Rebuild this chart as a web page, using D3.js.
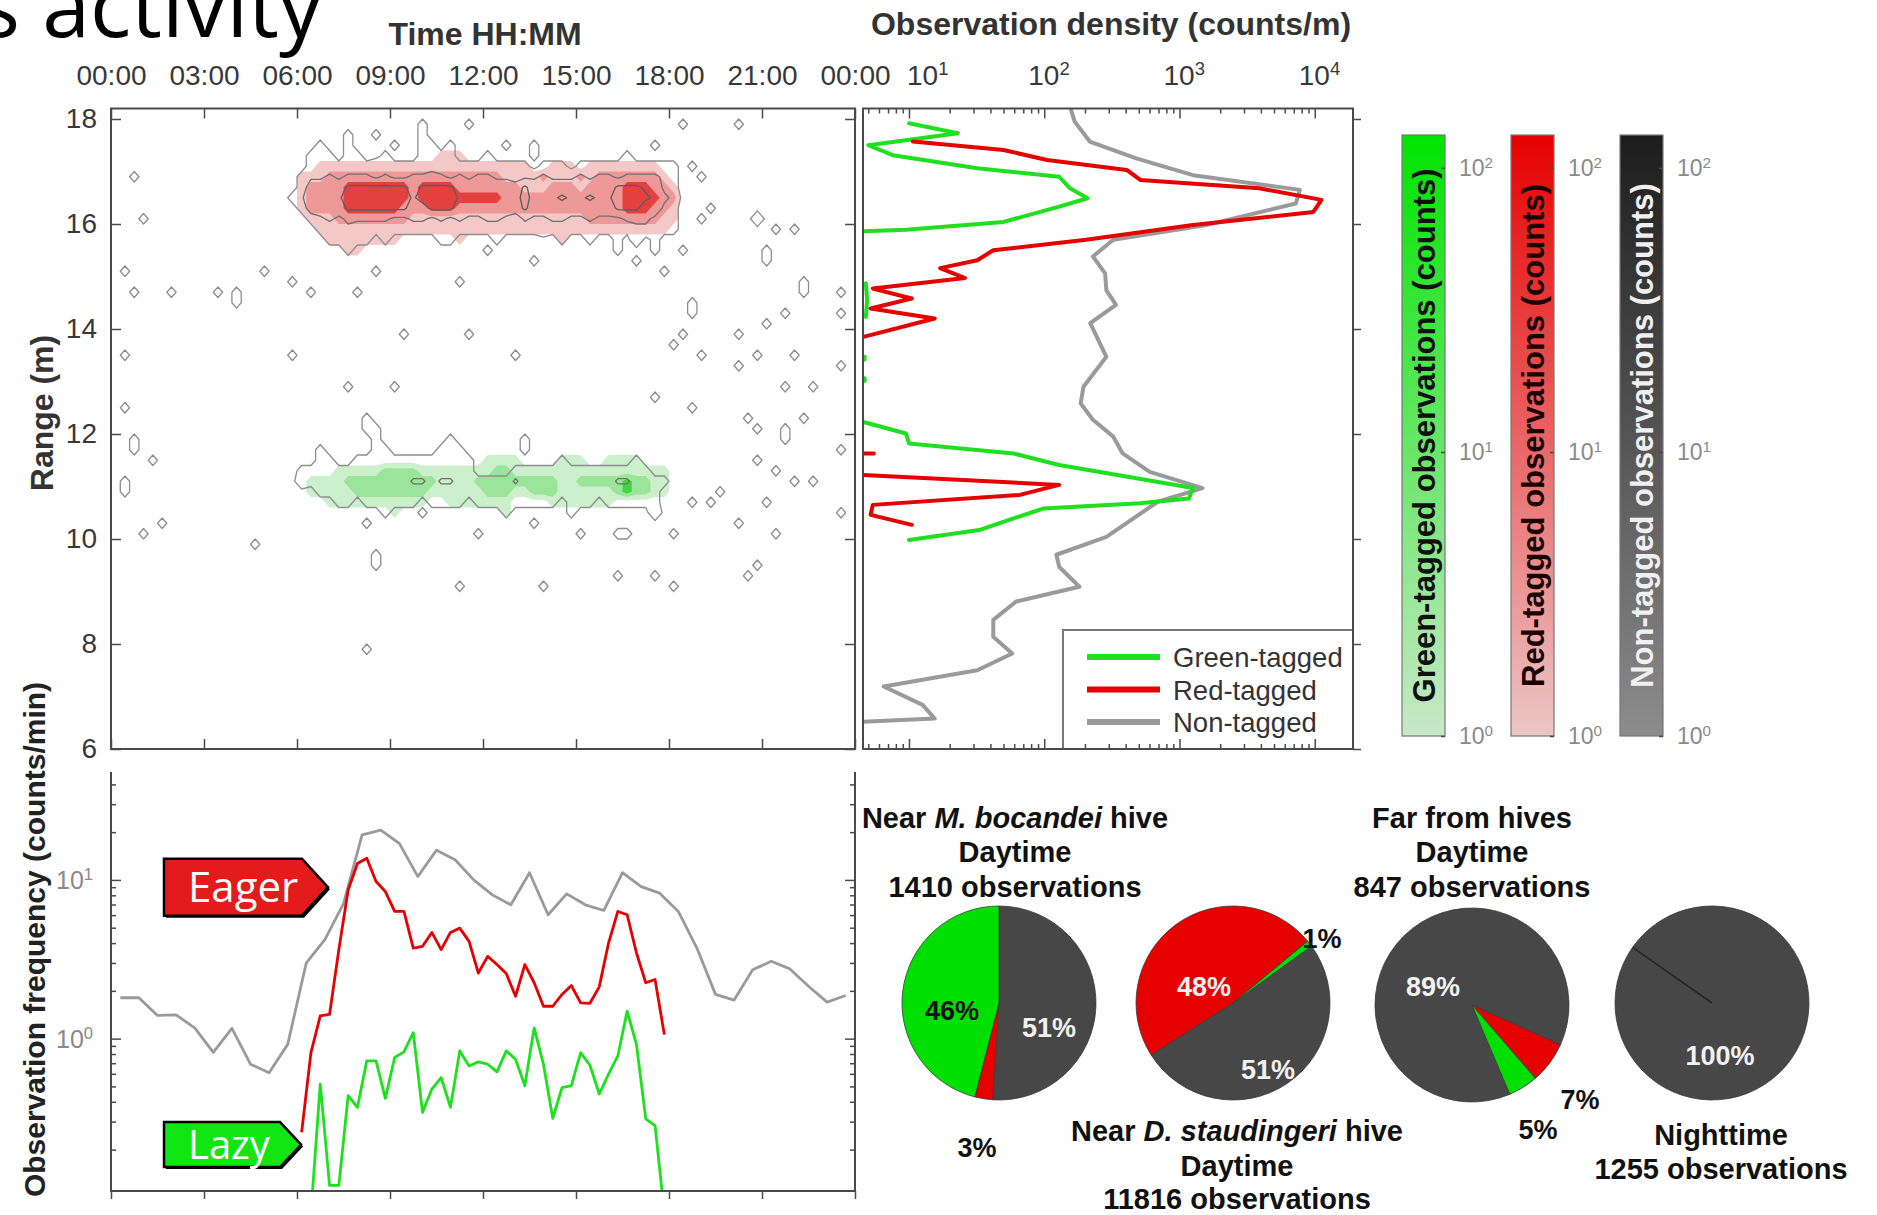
<!DOCTYPE html>
<html>
<head>
<meta charset="utf-8">
<script src="https://cdn.jsdelivr.net/npm/d3@7"></script>
<style>
  body { margin: 0; background: #fff; }
  svg { display: block; font-family: "Liberation Sans", Arial, sans-serif; }
</style>
</head>
<body>
<svg id="fig" width="1877" height="1215"></svg>
<script>
// ---- data ----

const hourTicks = [0, 3, 6, 9, 12, 15, 18, 21, 24];
const hourLabels = ["00:00", "03:00", "06:00", "09:00", "12:00", "15:00", "18:00", "21:00", "00:00"];
const rangeTicks = [6, 8, 10, 12, 14, 16, 18];

// heat map grid: 0.3 h columns x 0.2 m rows, row 0 starts at 18.2 m.
// band strings start at column 18; each char is a count level ('.' = none)
const bandFirstCol = 18;
const upperNonTaggedFirstRow = 2;
const upperNonTagged = [
  "..... ..1.. ..... 1.... ..... ..... ..... ..... .....",
  "....1 ..1.. ..1.. 11.1. ..... ..... ..... ..... 1....",
  "...11 1.11. .1... 1111. ..1.. ..1.. ..... ..1.. .....",
  "...11 11111 21111 12111 11111 11.11 1.111 11111 111..",
  "..122 32333 23223 33323 23322 12232 22323 32333 321..",
  "..144 44666 66664 66664 44544 46444 44444 46665 421..",
  ".1255 55777 77775 77775 55555 56555 65565 57776 532..",
  "..144 44666 66664 46664 44444 46444 44444 46664 421..",
  "...12 32333 33223 32323 22332 13223 32232 22333 221..",
  "....1 11211 11111 11111 11111 11121 11111 11121 111..",
  "..... 11111 .1... ..11. ...1. ..... 1..1. .1.1. 1....",
  "..... ..1.. ..... ..... ..1.. ..... ..... .1... ....."
];
const upperRedFirstRow = 4;
const upperRed = [
  "..... ..... ..... ..111 ..... ..... ..... ..... .....",
  "....1 11111 11111 11111 11111 11..1 11.11 11111 1....",
  "..111 22222 22222 22222 22221 11121 11212 22222 21...",
  "..122 22333 33332 33332 22222 21112 22122 22333 221..",
  "..122 22333 33332 33333 33332 22222 22222 22333 322..",
  "..122 22333 33322 23332 22222 22222 22222 22333 221..",
  "...11 12222 22221 11111 11111 11111 11122 22222 211..",
  "....1 11111 11111 11111 11111 11111 11111 11111 11...",
  "..... 11111 111.. ....1 ..... ..... 1.... ..... .....",
  "..... ..11. ..... ..... ..... ..... ..... ..... ....."
];
const lowerNonTaggedFirstRow = 29;
const lowerNonTagged = [
  "..... ....1 ..... ..... ..... ..... ..... ..... .....",
  "..... ....1 1.... ..... ..... ..... ..... ..... .....",
  "..... ..... 1.... ...1. ..... .1... ..... ..... .....",
  "....1 ..... 11... ..111 ..... .1... ..... ..... .....",
  "....1 1..11 11111 11111 1.... ..... 1.... ...1. .....",
  "...11 11111 11111 11111 1.... 11111 11111 11111 .....",
  "..111 11111 11113 31331 11111 31111 11111 13311 11...",
  "....1 11111 11111 11111 11111 11111 11111 11111 1....",
  "..... .11.1 11111 .1111 .1111 11111 .111. 11111 1....",
  "..... ..... .1... 1.... ....1 ..... .1... ..... 1...."
];
const lowerGreenFirstRow = 33;
const lowerGreen = [
  "..... ..... ..... ..... ..111 1.... 111.. 1111. .....",
  "..... .1111 12222 11111 11122 11111 11111 11111 11...",
  "...11 11222 22222 22111 12222 22222 11222 22322 11...",
  "...11 11122 22222 21111 11222 11222 11111 12322 11...",
  "..... 11111 11111 1..11 11111 ....1 11111 1.... .....",
  "..... ..... ..1.. ..... ....1 ..... ..... ..... ....."
];

// isolated non-tagged observations [hour, range m]
const strayObs = [
  [8.6, 17.77], [10.1, 17.8], [11.6, 17.8], [12.8, 17.45], [13.5, 17.45], [18.5, 17.8], [20.2, 17.8],
  [18.6, 17.2], [19.1, 16.8], [19.3, 16.4], [18.9, 16.0], [20.7, 16.1], [20.8, 16.2], [21.4, 15.83],
  [22.0, 15.9], [21.0, 15.47], [21.2, 15.24], [17.4, 15.47], [17.7, 15.2], [16.8, 15.37], [16.8, 15.6],
  [18.3, 15.4], [17.3, 15.8], [13.7, 15.37], [11.3, 14.86], [7.9, 14.74], [8.5, 15.0], [6.4, 14.76],
  [5.9, 14.8], [4.8, 15.2], [3.9, 14.5], [4.0, 14.7], [3.3, 14.7], [1.9, 14.75], [0.7, 14.75],
  [0.55, 15.2], [0.7, 16.9], [0.9, 16.0], [9.4, 13.94], [11.6, 13.8], [13.1, 13.48], [7.6, 12.97],
  [9.1, 12.95], [5.9, 13.43], [0.35, 13.43], [18.6, 14.5], [18.6, 14.3], [18.1, 13.6], [18.4, 13.8],
  [19.0, 13.43], [20.3, 13.25], [20.8, 13.43], [20.3, 13.9], [21.8, 14.36], [21.2, 14.1], [22.2, 14.9],
  [22.2, 14.7], [23.4, 14.75], [23.4, 14.36], [22.0, 13.43], [23.5, 13.25], [22.7, 12.83], [21.7, 12.83],
  [22.4, 12.36], [21.8, 11.96], [21.8, 12.15], [20.9, 12.15], [23.4, 11.63], [20.4, 12.3], [18.8, 12.46],
  [17.5, 12.6], [22.0, 11.12], [22.5, 11.03], [21.5, 11.35], [20.9, 11.5], [21.1, 10.66], [20.3, 10.34],
  [19.4, 10.74], [19.7, 10.9], [23.5, 10.43], [21.4, 10.1], [20.7, 9.55], [18.7, 10.74], [0.55, 12.5],
  [0.6, 11.7], [0.6, 11.9], [1.3, 11.5], [0.5, 10.8], [0.5, 11.0], [0.95, 10.15], [1.7, 10.3],
  [4.7, 9.96], [6.1, 11.35], [6.1, 11.1], [8.6, 9.64], [8.6, 9.45], [11.3, 9.1], [8.1, 7.98],
  [16.3, 9.27], [13.9, 9.0], [17.5, 9.27], [18.0, 9.2], [15.0, 10.2], [16.4, 10.2], [16.6, 10.2],
  [17.5, 10.47], [18.0, 10.1], [13.5, 10.38], [12.2, 10.84], [11.9, 10.0], [20.6, 9.37], [8.1, 10.3]
];

// observation density profiles [range m, counts/m]; null breaks the line
const greenProfile = [
  [17.92, 10], [17.73, 23], [17.50, 5.0], [17.31, 7.6], [17.06, 32], [16.90, 129], [16.68, 155],
  [16.49, 209], [16.33, 129], [16.04, 50], [15.89, 9.5], [15.86, 4.6], null,
  [14.87, 4.8], [14.55, 4.9], [14.23, 4.8], null,
  [13.47, 4.7], [13.42, 4.7], null, [13.06, 4.7], [13.01, 4.7], null,
  [12.23, 4.6], [12.01, 9.5], [11.82, 10], [11.63, 59], [11.41, 129], [10.97, 1259], [10.77, 1175],
  [10.68, 513], [10.58, 98], [10.17, 33], [9.98, 10]
];
const redProfile = [
  [17.57, 10.7], [17.41, 50], [17.22, 105], [17.03, 407], [16.84, 513], [16.68, 3890], [16.46, 11220],
  [16.23, 9772], [15.98, 1259], [15.70, 204], [15.50, 42], [15.31, 32], [15.16, 17], [14.97, 26],
  [14.77, 5.4], [14.58, 10.5], [14.39, 5.2], [14.20, 15.5], [13.85, 4.6], null,
  [11.63, 4.5], [11.63, 5.5], null,
  [11.22, 4.6], [11.03, 129], [10.84, 66], [10.65, 5.4], [10.46, 5.2], [10.27, 10.5]
];
const nonTaggedProfile = [
  [18.17, 158], [17.95, 168], [17.57, 217], [17.25, 479], [16.93, 1259], [16.65, 7762], [16.39, 7244],
  [15.98, 1585], [15.70, 324], [15.38, 229], [15.06, 282], [14.74, 288], [14.46, 339], [14.11, 219],
  [13.47, 288], [12.90, 195], [12.58, 186], [12.27, 229], [11.95, 324], [11.63, 380], [11.28, 603],
  [10.97, 1479], [10.71, 692], [10.04, 288], [9.70, 123], [9.47, 129], [9.09, 182], [8.81, 62],
  [8.46, 42], [8.14, 42], [7.82, 58], [7.50, 32], [7.19, 6.5], [6.84, 12.6], [6.58, 15.5],
  [6.52, 4.6], [6.3, 3], [5.9, 3]
];

// observation frequency (counts/min); non-tagged in 0.6 h bins, tagged in 0.3 h bins
const nonTaggedFreq = [
  1.81, 1.81, 1.40, 1.41, 1.17, 0.82, 1.16, 0.69, 0.61, 0.92, 3.0, 4.2, 7.1, 19.2, 20.6, 17.0, 10.5, 15.4, 13.4, 10.0,
  8.05, 6.97, 11.1, 6.03, 8.17, 6.97, 6.42, 11.1, 9.08, 8.25, 6.33, 3.72, 1.90, 1.75, 2.72, 3.07, 2.75, 2.14, 1.70, 1.87
];
const redFreqStartBin = 20;
const redFreq = [
  0.257, 0.817, 1.39, 1.42, 3.64, 8.65, 12.7, 13.7, 9.77, 8.45, 6.33, 6.33, 3.72, 3.82, 4.67, 3.64, 4.67, 4.97, 4.10, 2.59,
  3.30, 2.93, 2.57, 1.85, 2.93, 2.25, 1.60, 1.60, 1.90, 2.16, 1.68, 1.67, 2.12, 4.0, 6.33, 6.03, 3.47, 2.25, 2.36, 1.06
];
const greenFreqStartBin = 21;
const greenFreq = [
  0.08, 0.517, 0.119, 0.119, 0.437, 0.369, 0.724, 0.724, 0.42, 0.76, 0.825, 1.09, 0.343, 0.481, 0.569, 0.369, 0.837, 0.673, 0.714, 0.69,
  0.618, 0.837, 0.742, 0.505, 1.17, 0.69, 0.315, 0.492, 0.505, 0.817, 0.68, 0.448, 0.597, 0.778, 1.49, 0.92, 0.312, 0.283, 0.08
];

// pie shares in order non-tagged, red, green (clockwise); start angle of first slice in degrees
const pieShares = [[51, 3, 46], [51, 48, 1], [89, 7, 5], [100, 0, 0]];
const pieStartDeg = [0, 54, 157, 305];
const pieTitles = [
  [["Near ", ["M. bocandei", true], " hive"], ["Daytime"], ["1410 observations"]],
  [["Near ", ["D. staudingeri", true], " hive"], ["Daytime"], ["11816 observations"]],
  [["Far from hives"], ["Daytime"], ["847 observations"]],
  [["Nighttime"], ["1255 observations"]]
];
const pieLabels = [
  [["46%", "#111"], ["51%", "#f2f2f2"], ["3%", "#111"]],
  [["48%", "#f2f2f2"], ["1%", "#111"], ["51%", "#f2f2f2"]],
  [["89%", "#f2f2f2"], ["7%", "#111"], ["5%", "#111"]],
  [["100%", "#f2f2f2"]]
];

const legendItems = ["Green-tagged", "Red-tagged", "Non-tagged"];
const colorbarTitles = ["Green-tagged observations (counts)", "Red-tagged observations (counts)", "Non-tagged observations (counts)"];

// ---- layout ----
const GREEN = "#1ee01e", RED = "#e60000", GREY = "#9a9a9a", FRAME = "#4a4a4a";
const svg = d3.select("#fig");
const defs = svg.append("defs");

const xTime = d3.scaleLinear([0, 24], [111, 855]);
const yRange = d3.scaleLinear([6, 18.2], [749, 108.5]);
const xDens = d3.scaleLog([Math.pow(10, 0.66), Math.pow(10, 4.283)], [863, 1353]);
const yFreq = d3.scaleLog([Math.pow(10, -0.96), Math.pow(10, 1.68)], [1191, 772]);
const yBar = d3.scaleLog([1, Math.pow(10, 2.116)], [736, 135]);

function logMinor(scale) {
  const [lo, hi] = scale.domain(), out = [];
  for (let e = Math.floor(Math.log10(lo)); e <= Math.ceil(Math.log10(hi)); e++)
    for (let m = 2; m <= 9; m++) { const v = m * Math.pow(10, e); if (v > lo && v < hi) out.push(v); }
  return out;
}
function pow10(sel, exp) {
  sel.text("10").append("tspan").attr("dy", "-0.55em").attr("font-size", "0.66em").text(exp);
}
function styleAxis(g, size) {
  g.attr("font-family", null).attr("font-size", size || 28);
  g.select(".domain").remove();
  g.selectAll(".tick line").attr("stroke", FRAME).attr("stroke-width", 1.5);
  g.selectAll(".tick text").attr("fill", "#383838");
}

// slide title fragment
svg.append("text").attr("x", 322).attr("y", 37).attr("text-anchor", "end")
  .attr("font-family", "'Open Sans', 'Noto Sans', sans-serif").attr("font-size", 86)
  .attr("fill", "#000").text("s activity");

// ---- heat map ----
const heatCols = 80, heatRows = 61, colHours = 0.3, rowMetres = 0.2, heatTop = 18.2;
function gridFrom(blocks, points) {
  const v = new Float64Array(heatCols * heatRows);
  blocks.forEach(([firstRow, rows]) => rows.forEach((s, i) => {
    s.replace(/ /g, "").split("").forEach((ch, k) => {
      if (ch !== ".") v[(firstRow + i) * heatCols + bandFirstCol + k] = +ch;
    });
  }));
  (points || []).forEach(([h, m]) => {
    const c = Math.floor(h / colHours), r = Math.floor((heatTop - m) / rowMetres);
    if (c >= 0 && c < heatCols && r >= 0 && r < heatRows) v[r * heatCols + c] += 1;
  });
  return v;
}
const gridPath = d3.geoPath(d3.geoTransform({
  point(x, y) { this.stream.point(xTime(x * colHours), yRange(heatTop - y * rowMetres)); }
}));
defs.append("clipPath").attr("id", "clipHeat").append("rect")
  .attr("x", xTime(0)).attr("y", yRange(18.2)).attr("width", xTime(24) - xTime(0)).attr("height", yRange(6) - yRange(18.2));

const heat = svg.append("g").attr("clip-path", "url(#clipHeat)");
const contours = d3.contours().size([heatCols, heatRows]);
const redFill = d3.scaleOrdinal([0.5, 1.5, 2.5], ["#f5c8c8", "#ef9898", "#e54040"]);
const greenFill = d3.scaleOrdinal([0.5, 1.5, 2.5], ["#cbf0cb", "#9ae59a", "#3fd63f"]);
heat.append("g").selectAll("path")
  .data(contours.thresholds([0.5, 1.5, 2.5])(gridFrom([[upperRedFirstRow, upperRed]])))
  .join("path").attr("d", gridPath).attr("fill", d => redFill(d.value));
heat.append("g").selectAll("path")
  .data(contours.thresholds([0.5, 1.5, 2.5])(gridFrom([[lowerGreenFirstRow, lowerGreen]])))
  .join("path").attr("d", gridPath).attr("fill", d => greenFill(d.value));
const lineShade = d3.scaleOrdinal([0.5, 2.5, 5.5], ["#8e8e8e", "#707070", "#5c5c5c"]);
heat.append("g").selectAll("path")
  .data(contours.thresholds([0.5, 2.5, 5.5])(gridFrom([
    [upperNonTaggedFirstRow, upperNonTagged], [lowerNonTaggedFirstRow, lowerNonTagged]
  ], strayObs)))
  .join("path").attr("d", gridPath).attr("fill", "none")
  .attr("stroke", d => lineShade(d.value)).attr("stroke-width", 1.3).attr("stroke-linejoin", "round");

svg.append("rect").attr("x", xTime(0)).attr("y", yRange(18.2))
  .attr("width", xTime(24) - xTime(0)).attr("height", yRange(6) - yRange(18.2))
  .attr("fill", "none").attr("stroke", FRAME).attr("stroke-width", 2);

svg.append("g").attr("transform", `translate(0,${yRange(18.2)})`)
  .call(d3.axisTop(xTime).tickValues(hourTicks).tickSize(-10).tickPadding(24).tickFormat((d, i) => hourLabels[i]))
  .call(styleAxis);
svg.append("g").attr("transform", `translate(0,${yRange(6)})`)
  .call(d3.axisBottom(xTime).tickValues(hourTicks).tickSize(-10).tickFormat(""))
  .call(styleAxis);
svg.append("g").attr("transform", `translate(${xTime(0)},0)`)
  .call(d3.axisLeft(yRange).tickValues(rangeTicks).tickSize(-10).tickPadding(14).tickFormat(d3.format("d")))
  .call(styleAxis);
svg.append("g").attr("transform", `translate(${xTime(24)},0)`)
  .call(d3.axisRight(yRange).tickValues(rangeTicks).tickSize(-10).tickFormat(""))
  .call(styleAxis);

svg.append("text").attr("x", 485).attr("y", 45).attr("text-anchor", "middle")
  .attr("font-weight", "bold").attr("font-size", 32).attr("fill", "#333").text("Time HH:MM");
svg.append("text").attr("transform", `translate(41,${yRange(12.4)}) rotate(-90)`).attr("text-anchor", "middle")
  .attr("dy", "0.36em").attr("font-weight", "bold").attr("font-size", 32).attr("fill", "#333").text("Range (m)");

// ---- density profile ----
defs.append("clipPath").attr("id", "clipDens").append("rect")
  .attr("x", 863).attr("y", yRange(18.2)).attr("width", 490).attr("height", yRange(6) - yRange(18.2));
const dens = svg.append("g").attr("clip-path", "url(#clipDens)");
const densLine = d3.line().defined(d => d).x(d => xDens(d[1])).y(d => yRange(d[0]));
[[nonTaggedProfile, GREY], [greenProfile, GREEN], [redProfile, RED]].forEach(([data, c]) => {
  dens.append("path").attr("d", densLine(data)).attr("fill", "none").attr("stroke", c)
    .attr("stroke-width", 4).attr("stroke-linejoin", "round").attr("stroke-linecap", "round");
});

// legend
const leg = svg.append("g");
leg.append("rect").attr("x", 1063).attr("y", 630).attr("width", 290).attr("height", yRange(6) - 630)
  .attr("fill", "#fff").attr("stroke", "#777").attr("stroke-width", 2);
legendItems.forEach((name, i) => {
  const y = 657 + i * 32.5;
  leg.append("line").attr("x1", 1087).attr("x2", 1160).attr("y1", y).attr("y2", y)
    .attr("stroke", [GREEN, RED, GREY][i]).attr("stroke-width", 6);
  leg.append("text").attr("x", 1173).attr("y", y + 10).attr("font-size", 27.5).attr("fill", "#333").text(name);
});

svg.append("rect").attr("x", 863).attr("y", yRange(18.2)).attr("width", 490).attr("height", yRange(6) - yRange(18.2))
  .attr("fill", "none").attr("stroke", FRAME).attr("stroke-width", 2);
const densMajor = [10, 100, 1000, 10000];
svg.append("g").attr("transform", `translate(0,${yRange(18.2)})`)
  .call(d3.axisTop(xDens).tickValues(densMajor).tickSize(-10).tickFormat(""))
  .call(styleAxis);
svg.append("g").attr("transform", `translate(0,${yRange(18.2)})`)
  .call(d3.axisTop(xDens).tickValues(logMinor(xDens)).tickSize(-5).tickFormat(""))
  .call(styleAxis);
svg.append("g").attr("transform", `translate(0,${yRange(6)})`)
  .call(d3.axisBottom(xDens).tickValues(densMajor).tickSize(-10).tickFormat(""))
  .call(styleAxis);
svg.append("g").attr("transform", `translate(0,${yRange(6)})`)
  .call(d3.axisBottom(xDens).tickValues(logMinor(xDens)).tickSize(-5).tickFormat(""))
  .call(styleAxis);
svg.append("g").attr("transform", `translate(1353,0)`)
  .call(d3.axisRight(yRange).tickValues(rangeTicks).tickSize(8).tickFormat(""))
  .call(styleAxis);
svg.append("g").selectAll("text").data(densMajor).join("text")
  .attr("x", (d, i) => xDens(d) - (i === 0 ? 2 : 16)).attr("y", 85)
  .attr("font-size", 28).attr("fill", "#383838")
  .each(function(d) { pow10(d3.select(this), Math.round(Math.log10(d))); });
svg.append("text").attr("x", 1111).attr("y", 35).attr("text-anchor", "middle")
  .attr("font-weight", "bold").attr("font-size", 32).attr("fill", "#333").text("Observation density (counts/m)");

// ---- colour bars ----
const bars = [
  { x: 1402, top: "#00e400", bottom: "#c8e8c8", text: "#101010" },
  { x: 1511, top: "#e60000", bottom: "#ecc6c6", text: "#1a0000" },
  { x: 1620, top: "#1c1c1c", bottom: "#8c8c8c", text: "#f0f0f0" }
];
bars.forEach((b, i) => {
  const gid = "bar" + i;
  const grad = defs.append("linearGradient").attr("id", gid).attr("x1", 0).attr("y1", 1).attr("x2", 0).attr("y2", 0);
  grad.append("stop").attr("offset", 0).attr("stop-color", b.bottom);
  grad.append("stop").attr("offset", 1).attr("stop-color", b.top);
  const yTop = yBar.range()[1], yBot = yBar.range()[0];
  svg.append("rect").attr("x", b.x).attr("y", yTop).attr("width", 43).attr("height", yBot - yTop)
    .attr("fill", `url(#${gid})`).attr("stroke", "#777").attr("stroke-width", 1.2);
  svg.append("g").attr("transform", `translate(${b.x + 43},0)`)
    .call(d3.axisLeft(yBar).tickValues([1, 10, 100]).tickSize(4).tickFormat(""))
    .call(styleAxis);
  svg.append("g").selectAll("text").data([1, 10, 100]).join("text")
    .attr("x", b.x + 57).attr("y", d => yBar(d) + 8).attr("font-size", 23).attr("fill", "#8a8a8a")
    .each(function(d) { pow10(d3.select(this), Math.round(Math.log10(d))); });
  svg.append("text").attr("transform", `translate(${b.x + 22},${(yTop + yBot) / 2}) rotate(-90)`)
    .attr("text-anchor", "middle").attr("dy", "0.36em").attr("font-weight", "bold").attr("font-size", 31)
    .attr("fill", b.text).text(colorbarTitles[i]);
});

// ---- frequency panel ----
defs.append("clipPath").attr("id", "clipFreq").append("rect")
  .attr("x", xTime(0)).attr("y", yFreq.range()[1]).attr("width", xTime(24) - xTime(0)).attr("height", yFreq.range()[0] - yFreq.range()[1]);
const freq = svg.append("g").attr("clip-path", "url(#clipFreq)");
const freqLine = d3.line().x(d => xTime(d[0])).y(d => yFreq(d[1]));
const greySeries = nonTaggedFreq.map((v, i) => [(i + 0.5) * 0.6, v]);
const redSeries = redFreq.map((v, i) => [(redFreqStartBin + i + 0.5) * 0.3, v]);
const greenSeries = greenFreq.map((v, i) => [(greenFreqStartBin + i + 0.5) * 0.3, v]);
[[greySeries, GREY], [redSeries, RED], [greenSeries, GREEN]].forEach(([data, c]) => {
  freq.append("path").attr("d", freqLine(data)).attr("fill", "none").attr("stroke", c)
    .attr("stroke-width", 2.8).attr("stroke-linejoin", "round");
});
const fy0 = yFreq.range()[1], fy1 = yFreq.range()[0];
svg.append("path").attr("d", `M${xTime(0)},${fy0}V${fy1}H${xTime(24)}V${fy0}`)
  .attr("fill", "none").attr("stroke", FRAME).attr("stroke-width", 2);
svg.append("g").attr("transform", `translate(${xTime(0)},0)`)
  .call(d3.axisLeft(yFreq).tickValues([1, 10]).tickSize(-10).tickFormat(""))
  .call(styleAxis);
svg.append("g").attr("transform", `translate(${xTime(0)},0)`)
  .call(d3.axisLeft(yFreq).tickValues(logMinor(yFreq)).tickSize(-5).tickFormat(""))
  .call(styleAxis);
svg.append("g").attr("transform", `translate(${xTime(24)},0)`)
  .call(d3.axisRight(yFreq).tickValues([1, 10]).tickSize(-10).tickFormat(""))
  .call(styleAxis);
svg.append("g").attr("transform", `translate(${xTime(24)},0)`)
  .call(d3.axisRight(yFreq).tickValues(logMinor(yFreq)).tickSize(-5).tickFormat(""))
  .call(styleAxis);
svg.append("g").attr("transform", `translate(0,${fy1})`)
  .call(d3.axisBottom(xTime).tickValues(hourTicks).tickSize(8).tickFormat(""))
  .call(styleAxis);
svg.append("g").selectAll("text").data([1, 10]).join("text")
  .attr("x", 56).attr("y", d => yFreq(d) + 9).attr("font-size", 25).attr("fill", "#8a8a8a")
  .each(function(d) { pow10(d3.select(this), Math.round(Math.log10(d))); });
svg.append("text").attr("transform", `translate(34,${(670 + 1209) / 2}) rotate(-90)`).attr("text-anchor", "middle")
  .attr("dy", "0.36em").attr("font-weight", "bold").attr("font-size", 30).attr("fill", "#222").text("Observation frequency (counts/min)");

// activity badges
const badges = [
  { text: "Eager", fill: "#e31b1b", tipHour: 7.0, tipValue: 9.0, w: 164, h: 57, notch: 26, size: 42 },
  { text: "Lazy", fill: "#12e612", tipHour: 6.13, tipValue: 0.215, w: 137, h: 45, notch: 21, size: 40 }
];
badges.forEach(b => {
  const tx = xTime(b.tipHour), ty = yFreq(b.tipValue), x0 = tx - b.w, x1 = tx - b.notch;
  const pts = [[x0, ty - b.h / 2], [x1, ty - b.h / 2], [tx, ty], [x1, ty + b.h / 2], [x0, ty + b.h / 2]];
  svg.append("polygon").attr("points", pts.map(p => [p[0] + 2, p[1] + 2].join(",")).join(" ")).attr("fill", "#000");
  svg.append("polygon").attr("points", pts.map(p => p.join(",")).join(" "))
    .attr("fill", b.fill).attr("stroke", "#000").attr("stroke-width", 2.5);
  svg.append("text").attr("x", x0 + 24).attr("y", ty + b.size * 0.36).attr("font-family", "'Open Sans', sans-serif")
    .attr("font-size", b.size).attr("fill", "#fff").text(b.text);
});

// ---- pies ----
const pieCentres = [[999, 1003], [1233, 1003], [1472, 1005], [1712, 1003]];
const pieTitlePos = [[1015, [828, 862, 897]], [1237, [1141, 1176, 1209]], [1472, [828, 862, 897]], [1721, [1145, 1179]]];
const pieLabelOffsets = [
  [[-47, 7], [50, 24], [-22, 144]],
  [[-29, -17], [89, -65], [35, 66]],
  [[-39, -19], [108, 94], [66, 124]],
  [[8, 52]]
];
const sliceColour = ["#474747", RED, "#00e000"];
const arc = d3.arc().innerRadius(0).outerRadius(97);
pieShares.forEach((shares, k) => {
  const [cx, cy] = pieCentres[k];
  const a0 = pieStartDeg[k] * Math.PI / 180;
  const slices = d3.pie().sort(null).startAngle(a0).endAngle(a0 + 2 * Math.PI)(shares);
  const g = svg.append("g").attr("transform", `translate(${cx},${cy})`);
  g.selectAll("path").data(slices.filter(s => s.value > 0)).join("path")
    .attr("d", arc).attr("fill", (d) => sliceColour[d.index]).attr("stroke", "#3a3a3a").attr("stroke-width", 0.8);
  if (shares.filter(v => v > 0).length === 1) {
    g.append("line").attr("x1", 0).attr("y1", 0).attr("x2", 97 * Math.sin(a0)).attr("y2", -97 * Math.cos(a0))
      .attr("stroke", "#262626").attr("stroke-width", 1.6);
  }
  pieLabels[k].forEach(([t, c], j) => {
    g.append("text").attr("x", pieLabelOffsets[k][j][0]).attr("y", pieLabelOffsets[k][j][1] + 9.5)
      .attr("text-anchor", "middle").attr("font-weight", "bold").attr("font-size", 27).attr("fill", c).text(t);
  });
  const [tx, tys] = pieTitlePos[k];
  pieTitles[k].forEach((parts, j) => {
    const t = svg.append("text").attr("x", tx).attr("y", tys[j]).attr("text-anchor", "middle")
      .attr("font-weight", "bold").attr("font-size", 29).attr("fill", "#111");
    parts.forEach(p => {
      if (Array.isArray(p)) t.append("tspan").attr("font-style", "italic").text(p[0]);
      else t.append("tspan").text(p);
    });
  });
});
</script>
</body>
</html>
